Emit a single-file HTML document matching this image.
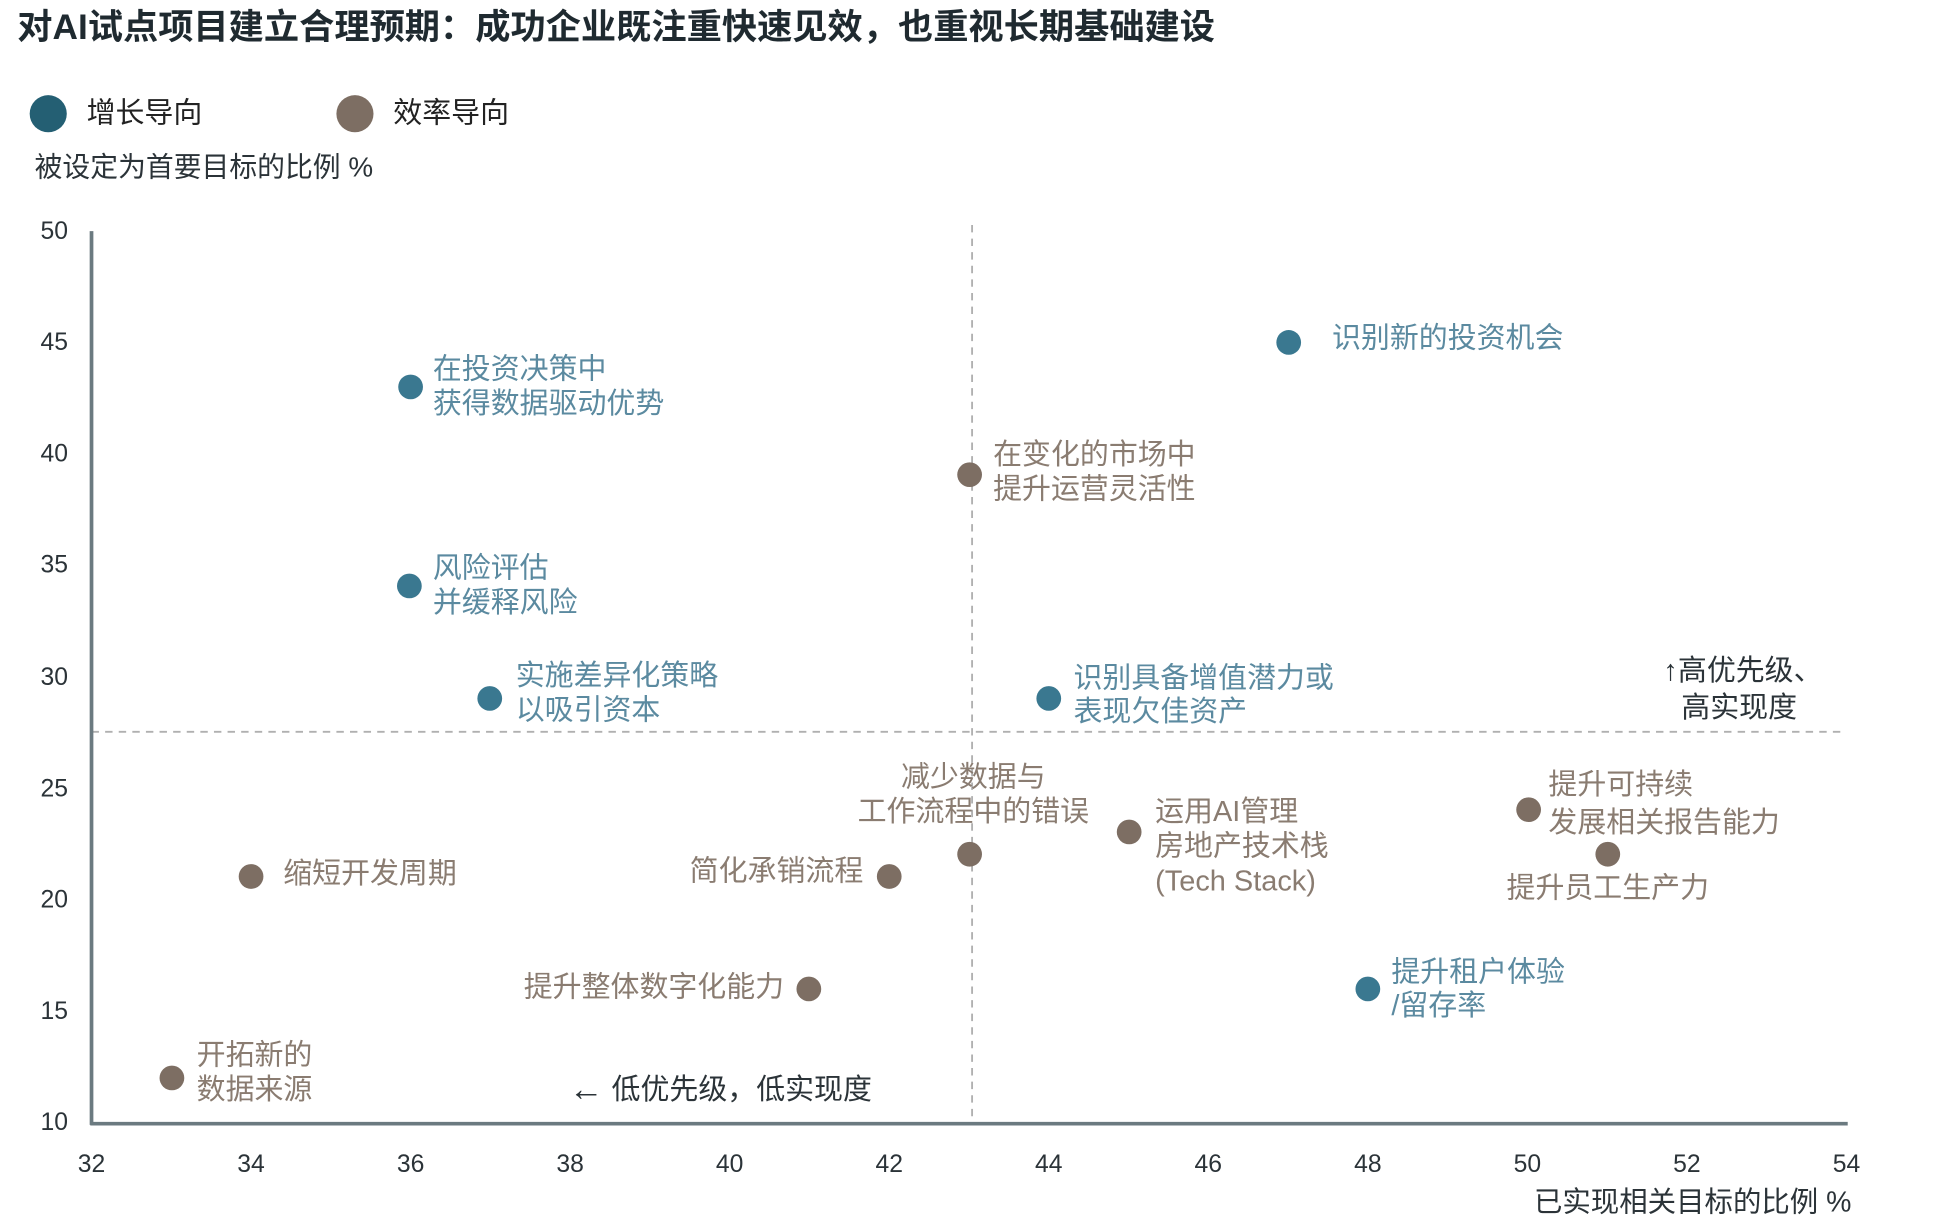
<!DOCTYPE html>
<html><head><meta charset="utf-8"><style>
html,body{margin:0;padding:0;background:#fff;}
svg{display:block;font-family:"Liberation Sans","Noto Sans CJK SC",sans-serif;}
.t{font-size:23.4px;dominant-baseline:middle}
.b{fill:#5b8aa0}.r{fill:#8a7c71}
.k{font-size:20px;fill:#2b3338;dominant-baseline:middle}
</style></head><body>
<svg width="1938" height="1230" viewBox="0 -2 1567 995" preserveAspectRatio="none" xmlns="http://www.w3.org/2000/svg">
<text x="14" y="22" font-size="28.5" font-weight="bold" fill="#1f2a30" dominant-baseline="middle">对AI试点项目建立合理预期：成功企业既注重快速见效，也重视长期基础建设</text>
<circle cx="39" cy="90" r="15" fill="#245f73"/>
<text x="70" y="91" class="t" fill="#222">增长导向</text>
<circle cx="287" cy="90" r="15" fill="#7d6e63"/>
<text x="318" y="91" class="t" fill="#222">效率导向</text>
<text x="28" y="135" font-size="22.5" fill="#2b3338" dominant-baseline="middle">被设定为首要目标的比例 %</text>
<line x1="786" y1="180" x2="786" y2="907" stroke="#b0b0b0" stroke-width="1.5" stroke-dasharray="6,5"/>
<line x1="74" y1="590" x2="1493" y2="590" stroke="#b0b0b0" stroke-width="1.5" stroke-dasharray="6,5"/>
<line x1="74" y1="185" x2="74" y2="908" stroke="#6b7a80" stroke-width="3"/>
<line x1="73" y1="907" x2="1494" y2="907" stroke="#6b7a80" stroke-width="3"/>
<g class="k" text-anchor="end">
<text x="55" y="186">50</text><text x="55" y="276">45</text><text x="55" y="366">40</text><text x="55" y="456">35</text><text x="55" y="547">30</text><text x="55" y="637">25</text><text x="55" y="727">20</text><text x="55" y="817">15</text><text x="55" y="907">10</text>
</g>
<g class="k" text-anchor="middle">
<text x="74" y="941">32</text><text x="203" y="941">34</text><text x="332" y="941">36</text><text x="461" y="941">38</text><text x="590" y="941">40</text><text x="719" y="941">42</text><text x="848" y="941">44</text><text x="977" y="941">46</text><text x="1106" y="941">48</text><text x="1235" y="941">50</text><text x="1364" y="941">52</text><text x="1493" y="941">54</text>
</g>
<text x="1497" y="972" font-size="23" fill="#2b3338" text-anchor="end" dominant-baseline="middle">已实现相关目标的比例 %</text>
<g fill="#3a7890">
<circle cx="1042" cy="275" r="10"/><circle cx="332" cy="311" r="10"/><circle cx="331" cy="472" r="10"/><circle cx="396" cy="563" r="10"/><circle cx="848" cy="563" r="10"/><circle cx="1106" cy="798" r="10"/>
</g>
<g fill="#7d6e63">
<circle cx="784" cy="382" r="10"/><circle cx="784" cy="689" r="10"/><circle cx="913" cy="671" r="10"/><circle cx="1236" cy="653" r="10"/><circle cx="1300" cy="689" r="10"/><circle cx="203" cy="707" r="10"/><circle cx="719" cy="707" r="10"/><circle cx="654" cy="798" r="10"/><circle cx="139" cy="870" r="10"/>
</g>
<g class="t">
<text x="1077" y="273" class="b">识别新的投资机会</text>
<text x="350" y="298" class="b">在投资决策中</text><text x="350" y="326" class="b">获得数据驱动优势</text>
<text x="350" y="459" class="b">风险评估</text><text x="350" y="487" class="b">并缓释风险</text>
<text x="417" y="546" class="b">实施差异化策略</text><text x="417" y="574" class="b">以吸引资本</text>
<text x="868" y="548" class="b">识别具备增值潜力或</text><text x="868" y="575" class="b">表现欠佳资产</text>
<text x="1125" y="786" class="b">提升租户体验</text><text x="1125" y="813" class="b">/留存率</text>
<text x="803" y="367" class="r">在变化的市场中</text><text x="803" y="395" class="r">提升运营灵活性</text>
<text x="787" y="628" class="r" text-anchor="middle">减少数据与</text><text x="787" y="656" class="r" text-anchor="middle">工作流程中的错误</text>
<text x="934" y="656" class="r">运用AI管理</text><text x="934" y="684" class="r">房地产技术栈</text><text x="934" y="712" class="r">(Tech Stack)</text>
<text x="1252" y="634" class="r">提升可持续</text><text x="1252" y="665" class="r">发展相关报告能力</text>
<text x="1300" y="718" class="r" text-anchor="middle">提升员工生产力</text>
<text x="229" y="706" class="r">缩短开发周期</text>
<text x="698" y="704" class="r" text-anchor="end">简化承销流程</text>
<text x="634" y="798" class="r" text-anchor="end">提升整体数字化能力</text>
<text x="159" y="853" class="r">开拓新的</text><text x="159" y="881" class="r">数据来源</text>
<text x="1345" y="542" fill="#2b3338">↑高优先级、</text>
<text x="1453" y="572" fill="#2b3338" text-anchor="end">高实现度</text>
<text x="460" y="881" fill="#2b3338"><tspan font-size="28">←</tspan> 低优先级，低实现度</text>
</g>
</svg>
</body></html>
